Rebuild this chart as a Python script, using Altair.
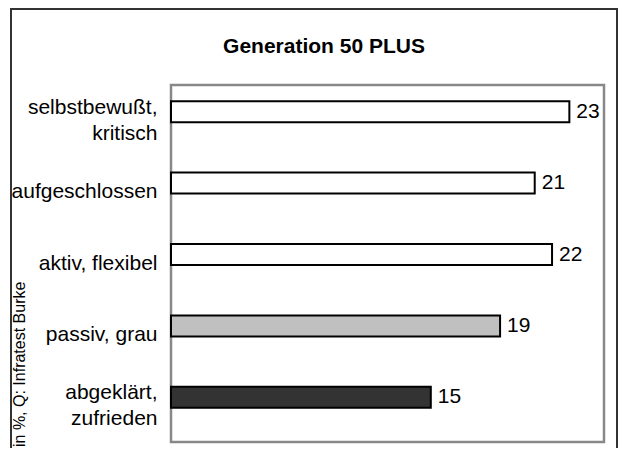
import altair as alt
import pandas as pd

categories = ["selbstbewußt,|kritisch", "aufgeschlossen", "aktiv, flexibel", "passiv, grau", "abgeklärt,|zufrieden"]
values = [23, 21, 22, 19, 15]
fills = ["#ffffff", "#ffffff", "#ffffff", "#c0c0c0", "#333333"]
title_text = "Generation 50 PLUS"
source_text = "in %, Q: Infratest Burke"

df = pd.DataFrame({"cat": categories, "val": values, "fill": fills})
one = pd.DataFrame({"k": [0]})

FONT = "Liberation Sans"

multi = "indexof(datum.label, '|') >= 0"

y_enc = alt.Y(
    "cat:N",
    sort=categories,
    scale=alt.Scale(paddingInner=0.7, paddingOuter=0.35),
    axis=alt.Axis(
        title=None,
        labelExpr="split(datum.label, '|')",
        labelFont=FONT,
        labelFontSize=21,
        labelColor="#000000",
        labelLineHeight=26,
        labelPadding=14,
        labelOffset={"condition": {"test": multi, "value": -13}, "value": 0},
        labelAlign="right",
        labelBaseline="middle",
        ticks=False,
        domain=False,
        labelLimit=300,
    ),
)
x_enc = alt.X("val:Q", scale=alt.Scale(domain=[0, 25], nice=False, zero=True), axis=None)

bars = alt.Chart(df).mark_bar(stroke="#000000", strokeWidth=2, yOffset=-9, size=21).encode(
    y=y_enc,
    x=x_enc,
    fill=alt.Fill("fill:N", scale=None),
)

labels = alt.Chart(df).mark_text(
    align="left", baseline="middle", dx=7, yOffset=-9, font=FONT, fontSize=21, color="#000000"
).encode(y=alt.Y("cat:N", sort=categories), x=x_enc, text="val:Q")

frame = alt.Chart(one).mark_rect(
    fill=None, stroke="#333333", strokeWidth=2, clip=False
).encode(
    x=alt.value(-160), x2=alt.value(446), y=alt.value(-76), y2=alt.value(370)
)

plot_border = alt.Chart(one).mark_rect(
    fill=None, stroke="#888888", strokeWidth=2.5, clip=False
).encode(
    x=alt.value(0), x2=alt.value(433), y=alt.value(0), y2=alt.value(357)
)

title = alt.Chart(one).mark_text(
    font=FONT, fontSize=21, fontWeight="bold", color="#000000", align="center", baseline="middle"
).encode(x=alt.value(153), y=alt.value(-38), text=alt.value(title_text))

source = alt.Chart(one).mark_text(
    font=FONT, fontSize=16, color="#000000", align="left", baseline="middle", angle=270
).encode(x=alt.value(-151), y=alt.value(362), text=alt.value(source_text))

chart = alt.layer(frame, plot_border, bars, labels, title, source).properties(
    width=433,
    height=357,
    autosize=alt.AutoSizeParams(type="none"),
    padding={"left": 163, "top": 77, "right": 14, "bottom": 6},
).configure_view(stroke=None).configure(background="#ffffff")

chart.save("out.html", embed_options={"renderer": "svg", "actions": False})
